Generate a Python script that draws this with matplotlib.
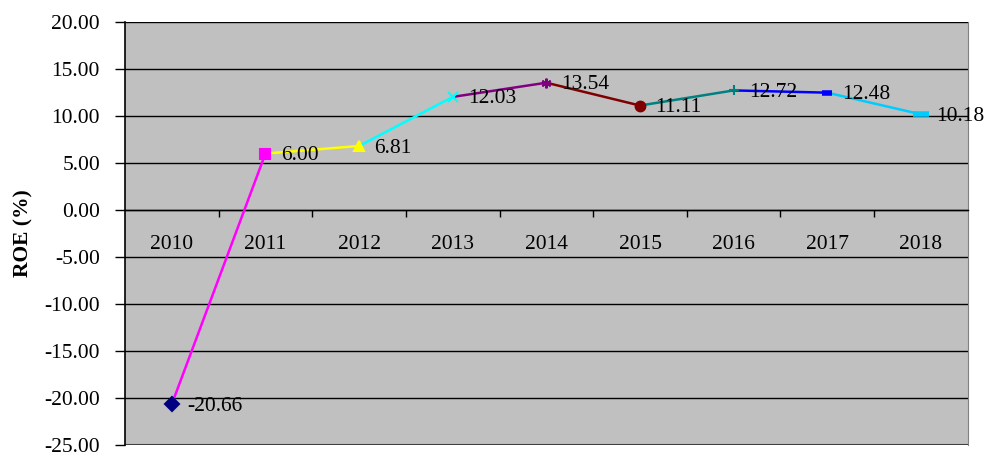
import matplotlib.pyplot as plt
from matplotlib.ticker import FixedLocator, MultipleLocator

years = ["2010", "2011", "2012", "2013", "2014", "2015", "2016", "2017", "2018"]
roe = [-20.66, 6.00, 6.81, 12.03, 13.54, 11.11, 12.72, 12.48, 10.18]

# colour of the segment leading out of each point (to the next one)
seg_colors = ["#FF00FF", "#FFFF00", "#00FFFF", "#800080", "#800000",
              "#008080", "#0000FF", "#00CCFF"]
marker_styles = ["D", "s", "^", "x", (6, 2, 0), "o", "+", "_", "_"]
marker_colors = ["#000080", "#FF00FF", "#FFFF00", "#00FFFF", "#800080",
                 "#800000", "#008080", "#0000FF", "#00CCFF"]

plt.rcParams["font.family"] = ["Liberation Serif", "DejaVu Serif"]
FS = 15.5

fig = plt.figure(figsize=(9.88, 4.57), dpi=100)
ax = fig.add_axes([0.1265, 0.0263, 0.853, 0.9256])
ax.set_facecolor("#C0C0C0")

x = list(range(len(years)))
for i in range(len(x) - 1):
    ax.plot(x[i:i + 2], roe[i:i + 2], color=seg_colors[i], lw=1.8, zorder=3)

for i, (xi, yi) in enumerate(zip(x, roe)):
    m = marker_styles[i]
    size = 7
    mew = 1.5
    if m == "_":
        size = 7 if i == 7 else 11
        mew = 4
    ax.plot(xi, yi, marker=m, color=marker_colors[i], ms=size, mew=mew,
            linestyle="none", zorder=4)
    ax.annotate(f"{yi:.2f}", (xi, yi), xytext=(11, -1.5), textcoords="offset points",
                ha="left", va="center", fontsize=FS, zorder=5)

ax.set_xlim(-0.5, len(years) - 0.5)
ax.set_ylim(-25, 20)
ax.yaxis.set_major_locator(MultipleLocator(5))
ax.yaxis.set_major_formatter(lambda v, p: f"{v:.2f}")
ax.grid(axis="y", color="black", lw=1)
ax.set_axisbelow(True)

ax.set_xticks(x)
ax.set_xticklabels(years)
ax.xaxis.set_minor_locator(FixedLocator([i + 0.5 for i in range(len(years) - 1)]))
ax.tick_params(axis="x", which="major", length=0, pad=18, labelsize=FS)
ax.tick_params(axis="x", which="minor", length=5, width=1, direction="out")
ax.tick_params(axis="y", length=7, width=1, direction="out", pad=11, labelsize=FS)

ax.spines["bottom"].set_position(("data", 0))
ax.spines["bottom"].set_linewidth(1)
ax.spines["left"].set_linewidth(1.2)
ax.spines["top"].set_visible(False)
ax.spines["right"].set_color("#808080")

ax.set_ylabel("ROE (%)", fontweight="bold", fontsize=FS, labelpad=8)

# bottom frame of the plot area
ax.axhline(-25, color="#404040", lw=1.5, zorder=1)

fig.savefig("out.png", dpi=100)
